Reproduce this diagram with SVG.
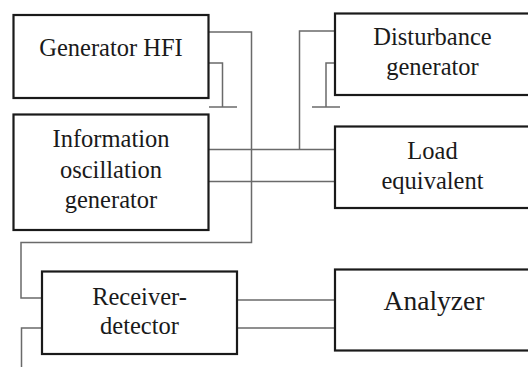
<svg xmlns="http://www.w3.org/2000/svg" width="528" height="367" viewBox="0 0 528 367">
  <style>
    .box { fill: #fff; stroke: #1a1a1a; stroke-width: 2.2; }
    .wire { fill: none; stroke: #6a6a6a; stroke-width: 1.5; }
  </style>
  <rect width="528" height="367" fill="#fff"/>

  <g id="connectors">
    <!-- HFI generator output to receiver input -->
    <polyline class="wire" points="209,32 251.5,32 251.5,242.5 21,242.5 21,298 42,298"/>
    <!-- HFI ground -->
    <polyline class="wire" points="209,63 222.5,63 222.5,107"/>
    <line class="wire" x1="209" y1="107" x2="237" y2="107"/>
    <!-- disturbance generator to common bus -->
    <polyline class="wire" points="335,31 299.5,31 299.5,149.5"/>
    <!-- disturbance ground -->
    <polyline class="wire" points="335,63 326,63 326,107"/>
    <line class="wire" x1="312" y1="107" x2="340" y2="107"/>
    <!-- information generator to load equivalent -->
    <line class="wire" x1="209" y1="149.5" x2="335" y2="149.5"/>
    <line class="wire" x1="209" y1="181.5" x2="335" y2="181.5"/>
    <!-- receiver to analyzer -->
    <line class="wire" x1="237" y1="300" x2="335" y2="300"/>
    <line class="wire" x1="237" y1="328" x2="335" y2="328"/>
    <!-- receiver second input -->
    <polyline class="wire" points="42,328 21.5,328 21.5,367"/>
  </g>

  <g id="generator-hfi">
    <rect class="box" x="13.5" y="15" width="195" height="83"/>
    <text x="111" y="56" text-anchor="middle" fill="#1a1a1a" font-family="Liberation Serif, Times New Roman, serif" font-size="24.5">Generator HFI</text>
  </g>

  <g id="information-generator">
    <rect class="box" x="13.5" y="114.5" width="195" height="115.5"/>
    <text x="111" y="147" text-anchor="middle" fill="#1a1a1a" font-family="Liberation Serif, Times New Roman, serif" font-size="24.5">Information</text>
    <text x="111" y="177.5" text-anchor="middle" fill="#1a1a1a" font-family="Liberation Serif, Times New Roman, serif" font-size="24.5">oscillation</text>
    <text x="111" y="208" text-anchor="middle" fill="#1a1a1a" font-family="Liberation Serif, Times New Roman, serif" font-size="24.5">generator</text>
  </g>

  <g id="disturbance-generator">
    <rect class="box" x="335" y="13.5" width="200" height="81.5"/>
    <text x="432.5" y="45" text-anchor="middle" fill="#1a1a1a" font-family="Liberation Serif, Times New Roman, serif" font-size="24.5">Disturbance</text>
    <text x="432.5" y="75" text-anchor="middle" fill="#1a1a1a" font-family="Liberation Serif, Times New Roman, serif" font-size="24.5">generator</text>
  </g>

  <g id="load-equivalent">
    <rect class="box" x="335" y="126.5" width="200" height="81.5"/>
    <text x="432.5" y="158.5" text-anchor="middle" fill="#1a1a1a" font-family="Liberation Serif, Times New Roman, serif" font-size="24.5">Load</text>
    <text x="432.5" y="189" text-anchor="middle" fill="#1a1a1a" font-family="Liberation Serif, Times New Roman, serif" font-size="24.5">equivalent</text>
  </g>

  <g id="receiver-detector">
    <rect class="box" x="42" y="271.5" width="195" height="82.5"/>
    <text x="139.5" y="305" text-anchor="middle" fill="#1a1a1a" font-family="Liberation Serif, Times New Roman, serif" font-size="24.5">Receiver-</text>
    <text x="139.5" y="333.5" text-anchor="middle" fill="#1a1a1a" font-family="Liberation Serif, Times New Roman, serif" font-size="24.5">detector</text>
  </g>

  <g id="analyzer">
    <rect class="box" x="335" y="269.5" width="200" height="81"/>
    <text x="434" y="310" text-anchor="middle" fill="#1a1a1a" font-family="Liberation Serif, Times New Roman, serif" font-size="27.5">Analyzer</text>
  </g>
</svg>
